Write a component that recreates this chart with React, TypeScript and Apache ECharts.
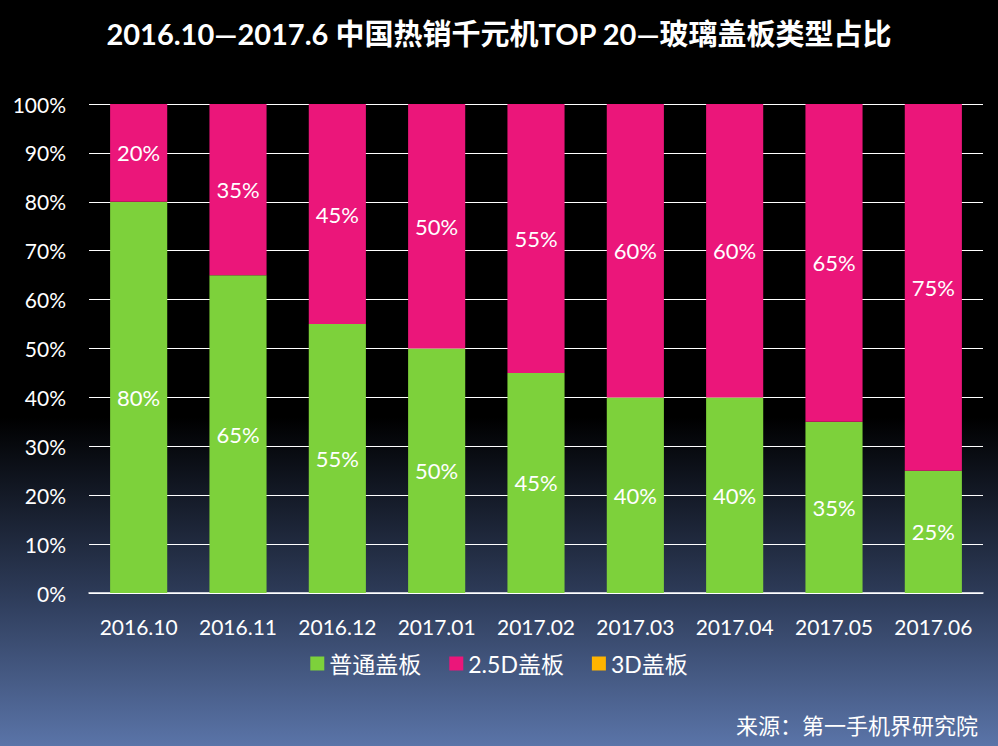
import React, { useEffect, useRef } from "react";
import * as echarts from "echarts";

const categories = ["2016.10", "2016.11", "2016.12", "2017.01", "2017.02", "2017.03", "2017.04", "2017.05", "2017.06"];
const normal = [80, 65, 55, 50, 45, 40, 40, 35, 25];
const d25 = [20, 35, 45, 50, 55, 60, 60, 65, 75];
const d3 = [0, 0, 0, 0, 0, 0, 0, 0, 0];
const seriesNames = ["普通盖板", "2.5D盖板", "3D盖板"];
const colors = ["#7dd13b", "#eb167a", "#ffb400"];
const title = "2016.10—2017.6 中国热销千元机TOP 20—玻璃盖板类型占比";
const source = "来源：第一手机界研究院";

const FONT = "Lato, 'Noto Sans CJK SC', sans-serif";

export default function App() {
  const ref = useRef<HTMLDivElement>(null);
  useEffect(() => {
    document.body.style.margin = "0";
    const chart = echarts.init(ref.current!, null, { renderer: "svg" });
    const label = {
      show: true,
      position: "inside",
      color: "#ffffff",
      fontSize: 22,
      fontFamily: FONT,
      formatter: (p: any) => (p.value > 0 ? p.value + "%" : ""),
    };
    chart.setOption({
      animation: false,
      backgroundColor: {
        type: "linear",
        x: 0, y: 0, x2: 0, y2: 1,
        colorStops: [
          { offset: 0, color: "#000000" },
          { offset: 0.56, color: "#000000" },
          { offset: 0.8, color: "#2e3c5a" },
          { offset: 1, color: "#5a74a8" },
        ],
      },
      title: {
        text: title,
        left: "center",
        top: 14,
        textStyle: { color: "#ffffff", fontSize: 29, fontWeight: "bold", fontFamily: FONT },
      },
      legend: {
        data: seriesNames,
        bottom: 66,
        left: "center",
        itemWidth: 14,
        itemHeight: 14,
        itemGap: 28,
        icon: "rect",
        textStyle: { color: "#ffffff", fontSize: 23, fontFamily: FONT },
      },
      graphic: [
        {
          type: "text",
          right: 20,
          bottom: 10,
          style: { text: source, fill: "#ffffff", fontSize: 22, fontFamily: FONT },
        },
      ],
      grid: { left: 89, right: 15, top: 104, bottom: 153 },
      xAxis: {
        type: "category",
        data: categories,
        axisLine: { lineStyle: { color: "#ffffff", width: 1.5 } },
        axisTick: { show: false },
        axisLabel: { color: "#ffffff", fontSize: 21, fontFamily: FONT, margin: 23, interval: 0 },
      },
      yAxis: {
        type: "value",
        min: 0,
        max: 100,
        interval: 10,
        axisLine: { show: false },
        axisTick: { show: false },
        splitLine: { lineStyle: { color: "#ffffff", width: 1 } },
        axisLabel: { color: "#ffffff", fontSize: 21, fontFamily: FONT, margin: 23, formatter: "{value}%" },
      },
      series: [
        { name: seriesNames[0], type: "bar", stack: "s", data: normal, barWidth: "57.5%", itemStyle: { color: colors[0] }, label },
        { name: seriesNames[1], type: "bar", stack: "s", data: d25, barWidth: "57.5%", itemStyle: { color: colors[1] }, label },
        { name: seriesNames[2], type: "bar", stack: "s", data: d3, barWidth: "57.5%", itemStyle: { color: colors[2] }, label },
      ],
    });
    return () => chart.dispose();
  }, []);
  return <div ref={ref} style={{ width: 998, height: 746 }} />;
}
